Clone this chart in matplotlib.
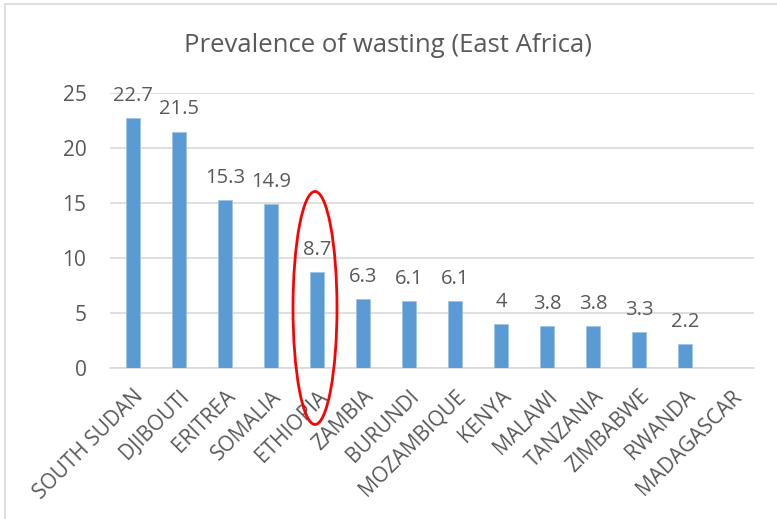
import numpy as np
import matplotlib.pyplot as plt
from matplotlib.patches import Ellipse, Rectangle

countries = ["SOUTH SUDAN", "DJIBOUTI", "ERITREA", "SOMALIA", "ETHIOPIA", "ZAMBIA",
             "BURUNDI", "MOZAMBIQUE", "KENYA", "MALAWI", "TANZANIA", "ZIMBABWE",
             "RWANDA", "MADAGASCAR"]
wasting = [22.7, 21.5, 15.3, 14.9, 8.7, 6.3, 6.1, 6.1, 4, 3.8, 3.8, 3.3, 2.2, np.nan]
yticks = [0, 5, 10, 15, 20, 25]

plt.rcParams['font.family'] = ['Open Sans', 'DejaVu Sans']
txt = '#595959'

fig = plt.figure(figsize=(7.77, 5.19), dpi=100)
ax = fig.add_axes([110/777, (519-368)/519, 644/777, 275/519])

x = np.arange(len(countries))
vals = np.array(wasting)
ax.bar(x[~np.isnan(vals)], vals[~np.isnan(vals)], width=0.31, color='#5B9BD5',
       edgecolor='#9DC3E6', linewidth=0.6, zorder=3)
for xi, v in zip(x, wasting):
    if not np.isnan(v):
        ax.text(xi, v + 1.1, '{:g}'.format(v), ha='center', va='bottom',
                fontsize=14.5, color=txt)

ax.set_xlim(-0.5, len(countries) - 0.5)
ax.set_ylim(0, 25)
ax.set_yticks(yticks)
ax.set_yticklabels([str(t) for t in yticks], fontsize=15, color=txt)
ax.set_xticks(x)
ax.set_xticklabels(countries, rotation=45, ha='right', rotation_mode='anchor',
                   fontsize=15, color=txt)
ax.tick_params(axis='both', length=0)
ax.tick_params(axis='y', pad=17)
ax.tick_params(axis='x', pad=13)
ax.grid(axis='y', color='#D9D9D9', linewidth=1.2, zorder=0)
for s in ['top', 'right', 'left']:
    ax.spines[s].set_visible(False)
ax.spines['bottom'].set_color('#D9D9D9')
ax.spines['bottom'].set_linewidth(1.2)

# red ellipse around Ethiopia
ell = Ellipse((315/777, (519-308)/519), 44/777, 233/519, transform=fig.transFigure,
              fill=False, edgecolor='red', linewidth=2, zorder=5)
fig.patches.append(ell)

fig.text(0.5, (519-45)/519, 'Prevalence of wasting (East Africa)', ha='center',
         va='center', fontsize=18.5, color=txt)

# chart border
fig.patches.append(Rectangle((5/777, -0.1), 1.2, (519-4)/519 + 0.1,
                             transform=fig.transFigure, fill=False,
                             edgecolor='#D9D9D9', linewidth=1.2))

fig.savefig('out.png', dpi=100)
